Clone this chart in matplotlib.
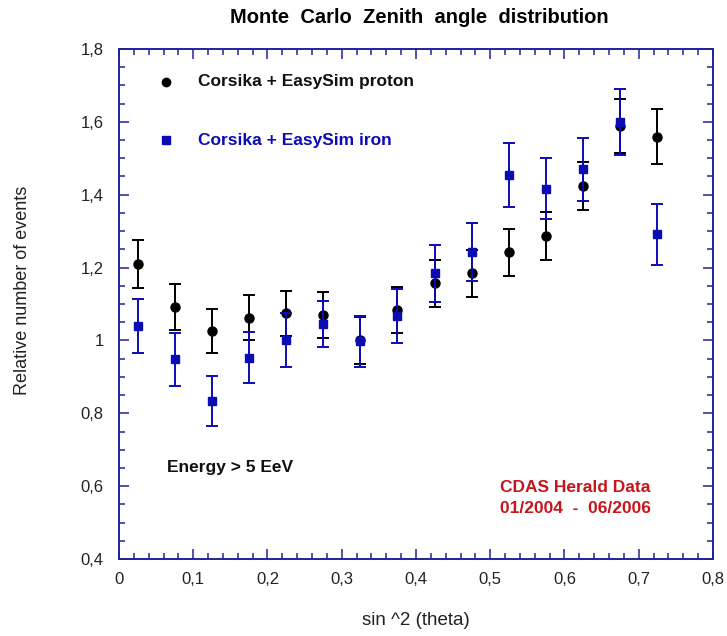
import matplotlib
matplotlib.use("Agg")
import matplotlib.pyplot as plt
from matplotlib.ticker import MultipleLocator, FuncFormatter

plt.rcParams['font.family'] = ['Liberation Sans', 'DejaVu Sans']

# sin^2(theta) bin centres
sin2_theta = [0.025, 0.075, 0.125, 0.175, 0.225, 0.275, 0.325, 0.375,
              0.425, 0.475, 0.525, 0.575, 0.625, 0.675, 0.725]

proton = [1.21, 1.092, 1.026, 1.062, 1.075, 1.070, 1.000, 1.084,
          1.157, 1.184, 1.242, 1.287, 1.425, 1.589, 1.559]
proton_err = [0.065, 0.062, 0.060, 0.062, 0.062, 0.063, 0.065, 0.064,
              0.065, 0.065, 0.065, 0.066, 0.066, 0.075, 0.075]

iron = [1.040, 0.948, 0.834, 0.953, 1.001, 1.045, 0.998, 1.067,
        1.184, 1.242, 1.454, 1.417, 1.470, 1.600, 1.291]
iron_err = [0.074, 0.072, 0.068, 0.070, 0.073, 0.062, 0.070, 0.075,
            0.078, 0.080, 0.088, 0.085, 0.086, 0.090, 0.083]

x_ticks = [0, 0.1, 0.2, 0.3, 0.4, 0.5, 0.6, 0.7, 0.8]
y_ticks = [0.4, 0.6, 0.8, 1.0, 1.2, 1.4, 1.6, 1.8]

axis_blue = '#23239a'
iron_blue = '#0c0cb4'
label_red = '#c4161c'

fig = plt.figure(figsize=(7.27, 6.36), dpi=100)
ax = fig.add_axes([0.1637, 0.121, 0.817, 0.802])

ax.errorbar(sin2_theta, proton, yerr=proton_err, fmt='o', color='black',
            ms=6.5, elinewidth=1.4, capsize=4, capthick=1.4, zorder=3)
ax.errorbar(sin2_theta, iron, yerr=iron_err, fmt='s', color=iron_blue,
            ms=6, elinewidth=1.4, capsize=4, capthick=1.4, zorder=4)

ax.set_xlim(0, 0.8)
ax.set_ylim(0.4, 1.8)


def comma_fmt(v, pos):
    s = f"{v:.1f}".rstrip('0').rstrip('.')
    return s.replace('.', ',')


ax.set_xticks(x_ticks)
ax.set_yticks(y_ticks)
ax.xaxis.set_major_formatter(FuncFormatter(comma_fmt))
ax.yaxis.set_major_formatter(FuncFormatter(comma_fmt))
ax.xaxis.set_minor_locator(MultipleLocator(0.02))
ax.yaxis.set_minor_locator(MultipleLocator(0.05))

ax.tick_params(which='both', direction='in', top=True, right=True,
               color=axis_blue, width=1.1)
ax.tick_params(which='major', length=7, labelsize=12, labelcolor='#222222')
ax.tick_params(axis='x', which='major', pad=9)
ax.tick_params(axis='y', which='major', pad=11)
ax.tick_params(which='minor', length=4)
for sp in ax.spines.values():
    sp.set_color(axis_blue)
    sp.set_linewidth(1.4)

ax.set_xlabel('sin ^2 (theta)', fontsize=13.5, va='center', color='#222222')
ax.xaxis.set_label_coords(0.5, -0.12)
ax.set_ylabel('Relative number of events', fontsize=13, va='center',
              color='#222222')
ax.yaxis.set_label_coords(-0.162, 0.527)
fig.text(0.577, 0.973, 'Monte  Carlo  Zenith  angle  distribution',
         ha='center', va='center', fontsize=14.5, fontweight='bold')

# legend drawn by hand
ax.plot([0.063], [1.710], 'o', color='black', ms=6)
ax.text(0.106, 1.710, 'Corsika + EasySim proton', fontsize=12.5,
        fontweight='bold', color='#111111', va='center')
ax.plot([0.063], [1.550], 's', color=iron_blue, ms=5.5)
ax.text(0.106, 1.550, 'Corsika + EasySim iron', fontsize=12.5,
        fontweight='bold', color=iron_blue, va='center')

ax.text(0.064, 0.650, 'Energy > 5 EeV', fontsize=12.5, fontweight='bold',
        color='#111111', va='center')
ax.text(0.615, 0.597, 'CDAS Herald Data', fontsize=12.5, fontweight='bold',
        color=label_red, ha='center', va='center')
ax.text(0.615, 0.540, '01/2004  -  06/2006', fontsize=12.5, fontweight='bold',
        color=label_red, ha='center', va='center')

fig.savefig('out.png', dpi=100)
